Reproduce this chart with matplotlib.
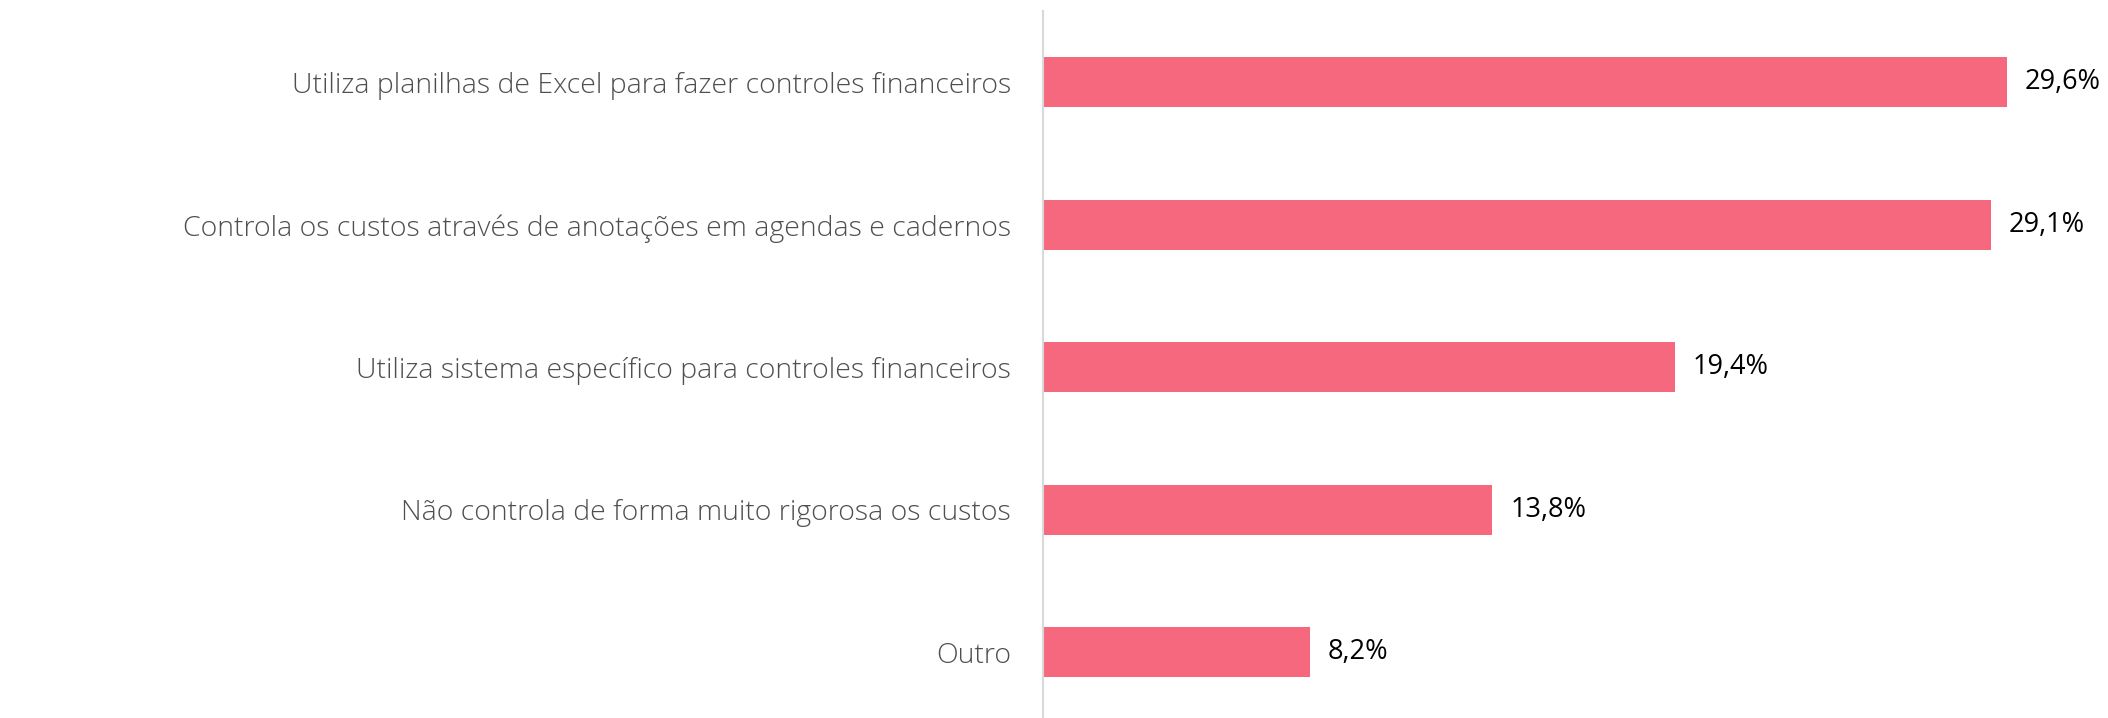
import matplotlib.pyplot as plt

# ── Data ──────────────────────────────────────────────────────────────────────
categories = [
    'Utiliza planilhas de Excel para fazer controles financeiros',
    'Controla os custos através de anotações em agendas e cadernos',
    'Utiliza sistema específico para controles financeiros',
    'Não controla de forma muito rigorosa os custos',
    'Outro',
]
values = [29.6, 29.1, 19.4, 13.8, 8.2]
value_labels = ['29,6%', '29,1%', '19,4%', '13,8%', '8,2%']

BAR = '#F6687D'
LABEL = '#4F4F4F'

plt.rcParams['font.family'] = ['Open Sans', 'DejaVu Sans']

fig = plt.figure(figsize=(21.08, 7.18), dpi=100, facecolor='white')
ax = fig.add_axes([1043 / 2108, 0, 1 - 1043 / 2108, 1 - 11 / 718])

pos = list(range(len(categories)))
ax.barh(pos, values, height=0.35, color=BAR)
for p, v, t in zip(pos, values, value_labels):
    ax.text(v + 0.55, p, t, va='center', ha='left', fontsize=19.5, color='black')

ax.set_xlim(0, 32.7)
ax.set_ylim(4.46, -0.5)
ax.set_yticks(pos)
ax.set_yticklabels(categories, fontsize=20.5, color=LABEL, fontweight='light')
ax.tick_params(axis='y', length=0, pad=23)
ax.set_xticks([])
for sp in ['top', 'right', 'bottom']:
    ax.spines[sp].set_visible(False)
ax.spines['left'].set_color('#D9D9D9')
ax.spines['left'].set_linewidth(1.5)

plt.savefig('out.png', dpi=100, facecolor='white')
